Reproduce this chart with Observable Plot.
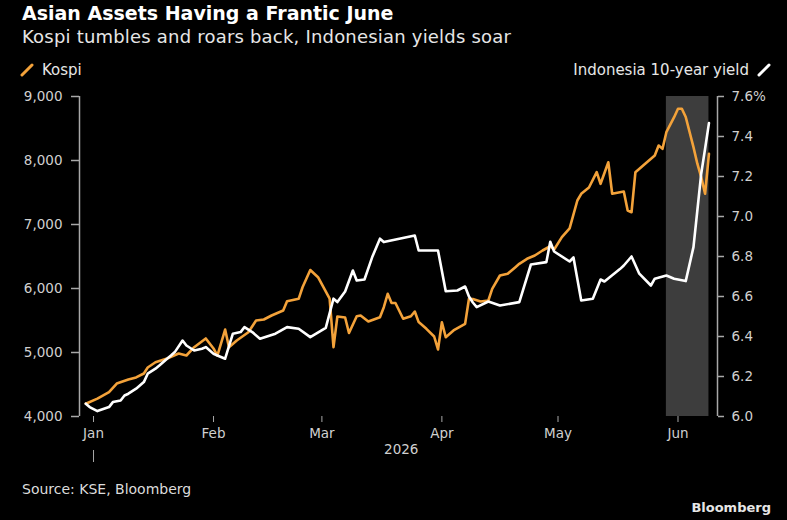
<!DOCTYPE html>
<html>
<head>
<meta charset="utf-8">
<script src="https://cdn.jsdelivr.net/npm/d3@7"></script>
<script src="https://cdn.jsdelivr.net/npm/@observablehq/plot@0.6"></script>
<style>
  html, body { margin: 0; padding: 0; background: #000; }
  body { width: 787px; height: 520px; position: relative; overflow: hidden; font-family: "DejaVu Sans", sans-serif; }
  .abs { position: absolute; white-space: nowrap; }
  #title { left: 22px; top: 4px; font-size: 19px; line-height: 19px; font-weight: bold; color: #fff; }
  #subtitle { left: 22px; top: 28px; font-size: 18px; line-height: 18px; letter-spacing: 0.2px; color: #e6e6e6; }
  .legend { top: 62px; font-size: 15px; line-height: 16px; color: #e6e6e6; display: flex; align-items: center; gap: 8px; }
  #legend-left { left: 20px; }
  #legend-right { right: 16px; }
  #chart { position: absolute; left: 0; top: 80px; }
  #source { left: 22px; top: 481px; font-size: 14px; line-height: 16px; color: #dcdcdc; }
  #brand { right: 16px; top: 500px; font-size: 13px; line-height: 16px; font-weight: bold; color: #e6e6e6; }
</style>
</head>
<body>
<div id="title" class="abs">Asian Assets Having a Frantic June</div>
<div id="subtitle" class="abs">Kospi tumbles and roars back, Indonesian yields soar</div>
<div id="legend-left" class="abs legend">
  <svg width="14" height="14"><line x1="2" y1="12" x2="12" y2="2" stroke="#f3a23a" stroke-width="3" stroke-linecap="round"/></svg>
  <span>Kospi</span>
</div>
<div id="legend-right" class="abs legend">
  <span>Indonesia 10-year yield</span>
  <svg width="14" height="14"><line x1="2" y1="12" x2="12" y2="2" stroke="#fff" stroke-width="3" stroke-linecap="round"/></svg>
</div>
<div id="chart"></div>
<div id="source" class="abs">Source: KSE, Bloomberg</div>
<div id="brand" class="abs">Bloomberg</div>
<script>
// Kospi index close
const kospiDates = [
  "2025-12-30","2026-01-02","2026-01-05","2026-01-07","2026-01-10","2026-01-12","2026-01-14","2026-01-15",
  "2026-01-17","2026-01-20","2026-01-23","2026-01-25","2026-01-27","2026-01-30","2026-02-01","2026-02-02",
  "2026-02-04","2026-02-05","2026-02-07","2026-02-10","2026-02-12","2026-02-14","2026-02-16","2026-02-19",
  "2026-02-20","2026-02-23","2026-02-24","2026-02-26","2026-02-28","2026-03-03","2026-03-04","2026-03-05",
  "2026-03-07","2026-03-08","2026-03-10","2026-03-11","2026-03-13","2026-03-16","2026-03-17","2026-03-18",
  "2026-03-19","2026-03-20","2026-03-22","2026-03-24","2026-03-25","2026-03-26","2026-03-28","2026-03-30",
  "2026-03-31","2026-04-01","2026-04-02","2026-04-04","2026-04-07","2026-04-08","2026-04-09","2026-04-11",
  "2026-04-13","2026-04-14","2026-04-16","2026-04-18","2026-04-20","2026-04-21","2026-04-23","2026-04-25",
  "2026-04-27","2026-04-29","2026-04-30","2026-05-02","2026-05-04","2026-05-06","2026-05-07","2026-05-09",
  "2026-05-11","2026-05-12","2026-05-14","2026-05-15","2026-05-18","2026-05-19","2026-05-20","2026-05-21",
  "2026-05-23","2026-05-26","2026-05-27","2026-05-28","2026-05-29","2026-05-31","2026-06-01","2026-06-02",
  "2026-06-03","2026-06-05","2026-06-06","2026-06-07","2026-06-08","2026-06-09"
];
const kospiValues = [
  4200, 4280, 4380, 4515, 4578, 4610, 4672, 4766,
  4848, 4906, 4984, 4953, 5083, 5219, 5063, 4953,
  5359, 5083, 5188, 5317, 5500, 5516, 5578, 5656,
  5802, 5839, 6020, 6289, 6177, 5841, 5083, 5563,
  5547, 5305, 5566, 5578, 5484, 5552, 5708, 5917,
  5773, 5773, 5527, 5567, 5640, 5475, 5370, 5250,
  5047, 5473, 5239, 5344, 5448, 5839, 5836, 5797,
  5813, 5995, 6203, 6230, 6333, 6386, 6464, 6516,
  6594, 6660, 6609, 6802, 6938, 7375, 7480, 7578,
  7817, 7636, 7973, 7480, 7516, 7219, 7192, 7817,
  7922, 8078, 8234, 8183, 8442, 8677, 8808, 8808,
  8680, 8208, 7950, 7740, 7480, 8105
];

// Indonesia 10-year government bond yield, %
const yieldDates = [
  "2025-12-30","2025-12-31","2026-01-02","2026-01-05","2026-01-06","2026-01-08","2026-01-09","2026-01-10",
  "2026-01-12","2026-01-14","2026-01-15","2026-01-17","2026-01-18","2026-01-20","2026-01-21","2026-01-22",
  "2026-01-24","2026-01-25","2026-01-27","2026-01-29","2026-01-30","2026-02-01","2026-02-02","2026-02-04",
  "2026-02-06","2026-02-08","2026-02-09","2026-02-11","2026-02-13","2026-02-17","2026-02-20","2026-02-23",
  "2026-02-26","2026-03-02","2026-03-04","2026-03-05","2026-03-07","2026-03-09","2026-03-10","2026-03-12",
  "2026-03-14","2026-03-16","2026-03-17","2026-03-21","2026-03-25","2026-03-26","2026-03-31","2026-04-02",
  "2026-04-05","2026-04-07","2026-04-08","2026-04-09","2026-04-10","2026-04-13","2026-04-16","2026-04-21",
  "2026-04-24","2026-04-28","2026-04-29","2026-04-30","2026-05-04","2026-05-05","2026-05-07","2026-05-10",
  "2026-05-12","2026-05-13","2026-05-17","2026-05-18","2026-05-20","2026-05-22","2026-05-25","2026-05-26",
  "2026-05-29","2026-05-31","2026-06-03","2026-06-05","2026-06-06","2026-06-07","2026-06-08","2026-06-09"
];
const yieldValues = [
  6.064, 6.047, 6.027, 6.047, 6.072, 6.080, 6.105, 6.114,
  6.139, 6.172, 6.214, 6.239, 6.255, 6.289, 6.305, 6.322,
  6.380, 6.355, 6.330, 6.339, 6.347, 6.314, 6.305, 6.289,
  6.414, 6.422, 6.447, 6.422, 6.389, 6.414, 6.447, 6.439,
  6.397, 6.443, 6.589, 6.572, 6.625, 6.730, 6.680, 6.685,
  6.797, 6.889, 6.872, 6.889, 6.905, 6.830, 6.830, 6.626,
  6.630, 6.650, 6.600, 6.570, 6.547, 6.575, 6.555, 6.572,
  6.760, 6.772, 6.874, 6.825, 6.775, 6.795, 6.580, 6.589,
  6.685, 6.675, 6.737, 6.755, 6.800, 6.714, 6.655, 6.689,
  6.705, 6.689, 6.677, 6.847, 7.030, 7.214, 7.339, 7.467
];

// Axis ticks
const kospiTicks = [4000, 5000, 6000, 7000, 8000, 9000];
const yieldTicks = [6.0, 6.2, 6.4, 6.6, 6.8, 7.0, 7.2, 7.4, 7.6];
const monthTicks = ["2026-01-01", "2026-02-01", "2026-03-01", "2026-04-01", "2026-05-01", "2026-06-01"];
const yearLabel = "2026";

// Highlighted June stretch
const highlightStart = "2026-05-29";
const highlightEnd = "2026-06-09";

// Time window shown on the x axis
const xStart = new Date("2025-12-28T09:00:00Z");
const xEnd = new Date("2026-06-11T05:00:00Z");

const orange = "#f3a23a";
const axisGray = "#a8a8a8";
const parse = d3.utcParse("%Y-%m-%d");

const kospi = kospiDates.map((d, i) => ({date: parse(d), value: kospiValues[i]}));
const yields = yieldDates.map((d, i) => ({date: parse(d), value: yieldValues[i]}));

// Map the yield onto the Kospi axis so both series share one y scale
const yieldToKospi = d3.scaleLinear()
  .domain([yieldTicks[0], yieldTicks[yieldTicks.length - 1]])
  .range([kospiTicks[0], kospiTicks[kospiTicks.length - 1]]);
const yieldMax = yieldTicks[yieldTicks.length - 1];

const months = monthTicks.map(parse);
const yearStart = months[0];
const lastDate = d3.max(kospi, d => d.date);
const yearMid = new Date((+yearStart + +lastDate) / 2);

const chart = Plot.plot({
  width: 787,
  height: 400,
  marginTop: 16,
  marginBottom: 64,
  marginLeft: 79,
  marginRight: 70,
  style: {background: "transparent", color: "#d0d0d0", fontFamily: "DejaVu Sans, sans-serif", fontSize: "13.5px"},
  x: {type: "utc", domain: [xStart, xEnd], label: null},
  y: {domain: [kospiTicks[0], kospiTicks[kospiTicks.length - 1]], label: null},
  marks: [
    Plot.rect([{start: parse(highlightStart), end: parse(highlightEnd)}], {x1: "start", x2: "end", fill: "#3d3d3d"}),
    // vertical axis lines at both frame edges
    Plot.ruleX([xStart, xEnd], {stroke: axisGray, strokeWidth: 1.5}),
    Plot.axisY({
      anchor: "left", ticks: kospiTicks, tickFormat: d3.format(","),
      tickSize: 8, tickPadding: 9, label: null, stroke: axisGray, strokeWidth: 1.5
    }),
    Plot.axisY({
      anchor: "right", ticks: yieldTicks.map(yieldToKospi),
      tickFormat: v => {
        const y = yieldToKospi.invert(v);
        return y.toFixed(1) + (Math.abs(y - yieldMax) < 1e-6 ? "%" : "");
      },
      tickSize: 6, tickPadding: 8, label: null, stroke: axisGray, strokeWidth: 1.5
    }),
    Plot.axisX({
      ticks: months, tickFormat: d3.utcFormat("%b"),
      tickSize: 6, tickPadding: 6, label: null, stroke: axisGray
    }),
    Plot.ruleX([yearStart], {stroke: axisGray, insetTop: 354, insetBottom: -46}),
    Plot.text([yearLabel], {x: yearMid, frameAnchor: "bottom", dy: 37, text: d => d, fill: "#d0d0d0"}),
    Plot.lineY(kospi, {x: "date", y: "value", stroke: orange, strokeWidth: 2.6}),
    Plot.lineY(yields, {x: "date", y: d => yieldToKospi(d.value), stroke: "#ffffff", strokeWidth: 2.6})
  ]
});

document.getElementById("chart").appendChild(chart);
</script>
</body>
</html>
